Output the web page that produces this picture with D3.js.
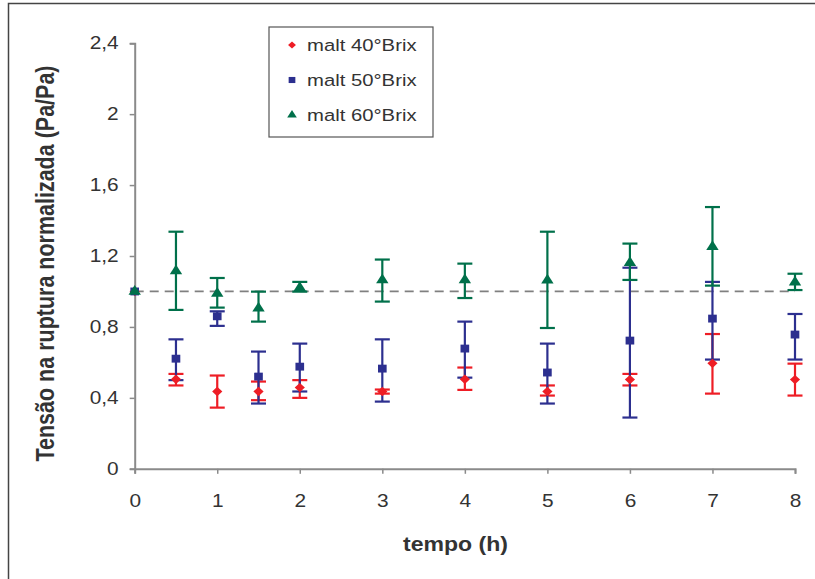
<!DOCTYPE html>
<html><head><meta charset="utf-8">
<script src="https://cdn.jsdelivr.net/npm/d3@7"></script>
<style>body{margin:0;background:#fff;} svg{display:block;font-family:Arial,"Liberation Sans",sans-serif;}</style>
</head><body>
<script>
const times = [0, 0.5, 1, 1.5, 2, 3, 4, 5, 6, 7, 8];
const seriesNames = ["malt 40°Brix", "malt 50°Brix", "malt 60°Brix"];
const red40   = [1.0, 0.505, 0.436, 0.436, 0.458, 0.436, 0.505, 0.436, 0.503, 0.595, 0.503];
const red40Hi = [1.0, 0.535, 0.526, 0.492, 0.50, 0.447, 0.571, 0.47, 0.535, 0.76, 0.593];
const red40Lo = [1.0, 0.47, 0.345, 0.387, 0.40, 0.424, 0.445, 0.413, 0.47, 0.424, 0.413];
const blue50   = [1.0, 0.621, 0.86, 0.52, 0.576, 0.565, 0.678, 0.543, 0.723, 0.847, 0.757];
const blue50Hi = [1.0, 0.73, 0.888, 0.661, 0.706, 0.73, 0.83, 0.706, 1.134, 1.054, 0.873];
const blue50Lo = [1.0, 0.50, 0.806, 0.368, 0.436, 0.379, 0.514, 0.368, 0.289, 0.616, 0.616];
const green60   = [1.0, 1.115, 0.988, 0.905, 1.021, 1.065, 1.065, 1.063, 1.162, 1.252, 1.052];
const green60Hi = [1.0, 1.337, 1.076, 0.999, 1.054, 1.18, 1.157, 1.337, 1.27, 1.476, 1.10];
const green60Lo = [1.0, 0.896, 0.909, 0.83, 0.999, 0.943, 0.963, 0.794, 1.065, 1.033, 1.008];
const yTicks = [0, 0.4, 0.8, 1.2, 1.6, 2, 2.4];
const xTicks = [0, 1, 2, 3, 4, 5, 6, 7, 8];
const refValue = 1.0;

const W = 815, H = 579;
const STRETCH = 1.18;
const svg = d3.select("body").append("svg").attr("width", W).attr("height", H);

svg.append("rect").attr("x", 8.5).attr("y", 3.5).attr("width", 830).attr("height", 600)
  .attr("fill", "none").attr("stroke", "#444").attr("stroke-width", 1.5);

const x = d3.scaleLinear().domain([0, 8]).range([134.7, 795]);
const y = d3.scaleLinear().domain([0, 2.4]).range([468.8, 43.2]);

const axisColor = "#8a8a8a";
const tickFmt = d => String(d).replace(".", ",");

function stretchText(sel) {
  sel.each(function () {
    const w = this.getComputedTextLength();
    d3.select(this).attr("textLength", w * STRETCH).attr("lengthAdjust", "spacingAndGlyphs");
  });
}

const gy = svg.append("g").attr("transform", `translate(${x(0)},0)`)
  .call(d3.axisLeft(y).tickValues(yTicks).tickFormat(tickFmt).tickSize(5).tickPadding(11));
const gx = svg.append("g").attr("transform", `translate(0,${y(0)})`)
  .call(d3.axisBottom(x).tickValues(xTicks).tickFormat(d3.format("d")).tickSize(5).tickPadding(21));
[gy, gx].forEach(g => {
  g.select(".domain").attr("stroke", axisColor).attr("stroke-width", 2);
  g.selectAll(".tick line").attr("stroke", axisColor).attr("stroke-width", 1.5);
  g.selectAll(".tick text").attr("fill", "#333").style("font-size", "17.7px")
    .style("font-family", "Arial, 'Liberation Sans', sans-serif");
  g.selectAll(".tick text").call(stretchText);
});

// reference line
svg.append("line").attr("x1", x(0)).attr("x2", x(8)).attr("y1", y(refValue)).attr("y2", y(refValue))
  .attr("stroke", "#808080").attr("stroke-width", 1.8).attr("stroke-dasharray", "9,6");

const series = [
  {name: seriesNames[0], v: red40, hi: red40Hi, lo: red40Lo, color: "#ee1d25", sym: d3.symbolDiamond2, size: 55},
  {name: seriesNames[1], v: blue50, hi: blue50Hi, lo: blue50Lo, color: "#2c2f8f", sym: d3.symbolSquare, size: 62},
  {name: seriesNames[2], v: green60, hi: green60Hi, lo: green60Lo, color: "#00704a", sym: d3.symbolTriangle, size: 55},
];

const cap = 7.5;
series.forEach(s => {
  const g = svg.append("g");
  times.forEach((t, i) => {
    if (s.hi[i] === s.lo[i]) return;
    const cx = x(t);
    g.append("line").attr("x1", cx).attr("x2", cx).attr("y1", y(s.hi[i])).attr("y2", y(s.lo[i]))
      .attr("stroke", s.color).attr("stroke-width", 2.2);
    [s.hi[i], s.lo[i]].forEach(v => {
      g.append("line").attr("x1", cx - cap).attr("x2", cx + cap).attr("y1", y(v)).attr("y2", y(v))
        .attr("stroke", s.color).attr("stroke-width", 2.2);
    });
  });
});
series.forEach(s => {
  svg.append("g").selectAll("path").data(times).join("path")
    .attr("transform", (t, i) => `translate(${x(t)},${y(s.v[i])}) scale(1.1,1)`)
    .attr("d", d3.symbol(s.sym, s.size)())
    .attr("fill", s.color);
});

// legend
const lg = svg.append("g");
lg.append("rect").attr("x", 269).attr("y", 27).attr("width", 164).attr("height", 110)
  .attr("fill", "#fff").attr("stroke", "#555").attr("stroke-width", 1.2);
series.forEach((s, i) => {
  const yy = 45 + i * 35;
  lg.append("path").attr("transform", `translate(292,${yy}) scale(1.1,1)`)
    .attr("d", d3.symbol(s.sym, s.size * 0.6)()).attr("fill", s.color);
  lg.append("text").attr("x", 307).attr("y", yy + 6.3).text(s.name)
    .attr("fill", "#333").style("font-size", "17.2px").call(stretchText);
});

// axis titles
svg.append("text").attr("x", 455.5).attr("y", 551).attr("text-anchor", "middle")
  .style("font-size", "20px").style("font-weight", "bold").attr("fill", "#333").text("tempo (h)")
  .attr("textLength", 105).attr("lengthAdjust", "spacingAndGlyphs");
svg.append("text").attr("transform", `translate(54,263.5) scale(${STRETCH},1) rotate(-90)`)
  .attr("text-anchor", "middle")
  .style("font-size", "21.5px").style("font-weight", "bold").attr("fill", "#333")
  .text("Tensão na ruptura normalizada (Pa/Pa)");
</script>
</body></html>
